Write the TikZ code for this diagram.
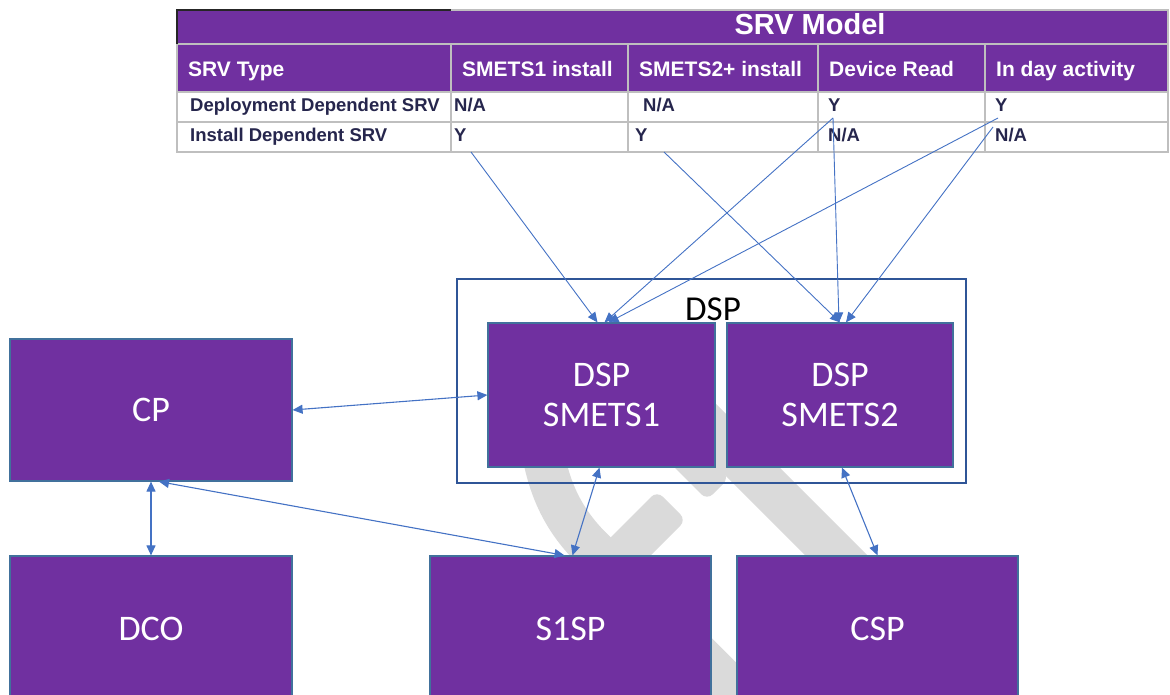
\documentclass[tikz,border=0pt]{standalone}
\usepackage{fontspec}
\setmainfont{Liberation Sans}
\newfontfamily\boxfont{Carlito}
\usetikzlibrary{arrows.meta}
\definecolor{srvpurple}{RGB}{112,48,160}
\definecolor{linkblue}{RGB}{68,114,196}
\definecolor{edgeblue}{RGB}{65,113,156}
\definecolor{frameblue}{RGB}{47,85,151}
\definecolor{gridgray}{RGB}{191,191,191}
\definecolor{cellink}{RGB}{38,38,77}
\definecolor{wmgray}{RGB}{218,218,218}
\tikzset{box/.style={draw=edgeblue, line width=1.2pt, fill=srvpurple, text=white, font=\boxfont\fontsize{36}{40}\selectfont, align=center, inner sep=0pt},
  link/.style={linkblue, line width=1.1pt, {Triangle[length=10pt,width=9pt]}-{Triangle[length=10pt,width=9pt]}},
  feed/.style={linkblue, line width=0.9pt, -{Triangle[length=10pt,width=9pt]}},
  hdr/.style={anchor=base west, text=white, font=\bfseries\fontsize{21}{25}\selectfont, inner sep=0pt},
  cell/.style={anchor=base west, text=cellink, font=\bfseries\fontsize{18.5}{22}\selectfont, inner sep=0pt},
  wm/.style={wmgray, line width=42pt}}

\begin{document}
\begin{tikzpicture}[x=1pt,y=-1pt]
  \useasboundingbox (0,0) rectangle (1170,695);
  \clip (0,0) rectangle (1170,695);
  % watermark
  \draw[wm] (538,410) .. controls (542,480) and (560,520) .. (600,556) -- (790,746);
  \fill[wmgray, rounded corners=8pt] (584,564) -- (657,491) -- (686,520) -- (613,593) -- cycle;
  \draw[wm, line width=44pt] (620,339) -- (900,619);
  \fill[wmgray, rounded corners=8pt] (647,440) -- (707,500) -- (729,478) -- (700,440) -- cycle;
  \fill[wmgray] (955,572) circle (17);

  % table
  \fill[srvpurple] (177,10) rectangle (1168,92);
  \fill[white] (177,92) rectangle (1168,152);
  \draw[gridgray, line width=1.2pt] (177,10) rectangle (1168,152)
    (177,44) -- (1168,44) (177,92) -- (1168,92) (177,122) -- (1168,122);
  \foreach \cx in {451,628,818,985}
    \draw[gridgray, line width=1.2pt] (\cx,44) -- (\cx,152);
  \draw[black!85, line width=2pt] (177,44) -- (177,10) -- (451,10);
  \node[font=\bfseries\fontsize{29}{34}\selectfont, text=white, anchor=base, inner sep=0pt] (title) at (810,35) {SRV Model};
  \foreach \cx/\ct [count=\i] in {177/SRV Type, 451/SMETS1 install, 628/SMETS2+ install, 818/Device Read, 985/In day activity}
    \node[hdr] (h\i) at (\cx+11,77) {\ct};
  \foreach \cx/\ct [count=\i] in {190/Deployment Dependent SRV, 454/{N/A}, 643/{N/A}, 828/Y, 995/Y}
    \node[cell] (a\i) at (\cx,112) {\ct};
  \foreach \cx/\ct [count=\i] in {190/Install Dependent SRV, 454/Y, 635/Y, 828/{N/A}, 995/{N/A}}
    \node[cell] (b\i) at (\cx,142) {\ct};

  \coordinate (yS1) at (471,152);
  \coordinate (yS2) at (664,152);
  \coordinate (yDR) at (833,118);
  \coordinate (yDA) at (998,118);
  \coordinate (naDA) at (993,127);

  % boxes
  \node[draw=frameblue, line width=1.3pt, minimum width=509pt, minimum height=204pt, inner sep=0pt] (dsp) at (711.5,381) {};
  \node[font=\boxfont\fontsize{35}{40}\selectfont, inner sep=0pt] (dsplabel) at (713,309) {DSP};
  \node[box, minimum width=227pt, minimum height=144pt] (smetsA) at (601.5,395) {DSP\\SMETS1};
  \node[box, minimum width=226pt, minimum height=144pt] (smetsB) at (840,395) {DSP\\SMETS2};
  \node[box, minimum width=282pt, minimum height=142pt] (cp) at (151,410) {CP};
  \node[box, minimum width=282pt, minimum height=146pt] (dco) at (151,629) {DCO};
  \node[box, minimum width=281pt, minimum height=146pt] (s1sp) at (570.5,629) {S1SP};
  \node[box, minimum width=281pt, minimum height=146pt] (csp) at (877.5,629) {CSP};

  % table to DSP
  \draw[feed] (yS1) -- ([xshift=-4pt]smetsA.north);
  \draw[feed] (yDR) -- ([xshift=3pt]smetsA.north);
  \draw[feed] (yDA) -- ([xshift=7pt]smetsA.north);
  \draw[feed] (yS2) -- (smetsB.north);
  \draw[feed] (yDR) -- ([xshift=-1pt]smetsB.north);
  \draw[feed] (naDA) -- ([xshift=6pt]smetsB.north);

  % parties
  \draw[link] (cp.east) -- (smetsA.west);
  \draw[link] (cp.south) -- (dco.north);
  \draw[link] ([xshift=8pt]cp.south) -- ([xshift=-6pt]s1sp.north);
  \draw[link] ([xshift=-2pt]smetsA.south) -- ([xshift=2pt]s1sp.north);
  \draw[link] ([xshift=2pt]smetsB.south) -- (csp.north);
\end{tikzpicture}
\end{document}
